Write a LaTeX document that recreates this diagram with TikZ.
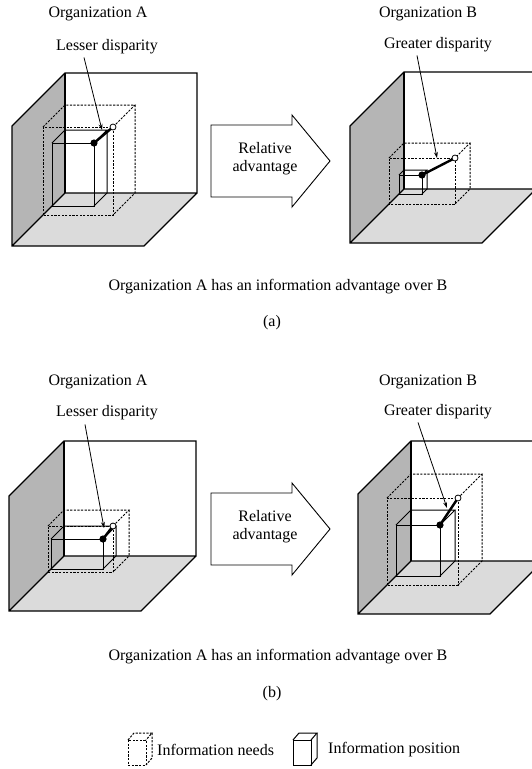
\documentclass[tikz,border=0pt]{standalone}
\usepackage{fontspec}
\setmainfont{Liberation Serif}
\usetikzlibrary{arrows.meta}
\definecolor{wallgray}{gray}{0.71}
\definecolor{floorgray}{gray}{0.86}
\tikzset{
  edge/.style={line width=1.1pt, line join=miter},
  needs/.style={line width=1pt, dash pattern=on 2.2pt off 1.4pt},
  position/.style={line width=1pt},
  gap/.style={line width=2.4pt},
  pointer/.style={line width=0.8pt, -{Stealth[length=6pt,width=4pt]}},
  label/.style={font=\fontsize{16}{18}\selectfont, inner sep=0pt},
}
% room corner: corner x, corner y, wall height, depth
\newcommand\drawpanel[4]{%
  \fill[floorgray] (#1,#2) -- (#1+132,#2) -- (#1+132-#4,#2+#4) -- (#1-#4,#2+#4) -- cycle;
  \fill[wallgray] (#1,#2-#3) -- (#1,#2) -- (#1-#4,#2+#4) -- (#1-#4,#2+#4-#3) -- cycle;
  \draw[edge] (#1+132,#2) -- (#1+132-#4,#2+#4) -- (#1-#4,#2+#4) -- (#1-#4,#2+#4-#3)
     -- (#1,#2-#3) -- (#1+132,#2-#3) -- (#1+132,#2) -- (#1,#2) -- (#1-#4,#2+#4);
  \draw[edge] (#1,#2-#3) -- (#1,#2);
}
% wire-frame box set in the corner: style, corner x, corner y, width, height, depth
\newcommand\wirebox[6]{%
  \draw[#1] (#2-#6,#3+#6) rectangle (#2+#4-#6,#3+#6-#5);
  \draw[#1] (#2-#6,#3+#6-#5) -- (#2,#3-#5) -- (#2+#4,#3-#5) -- (#2+#4-#6,#3+#6-#5);
  \draw[#1] (#2+#4,#3-#5) -- (#2+#4,#3) -- (#2+#4-#6,#3+#6);
}
% thick segment from the held position to the needed one
\newcommand\disparity[2]{%
  \draw[gap] (#1) -- (#2);
  \fill (#1) circle (3.6pt);
  \draw[line width=0.8pt, fill=white] (#2) circle (3pt);
}
\begin{document}
\begin{tikzpicture}[x=1pt,y=-1pt]
\useasboundingbox (0,0) rectangle (532,769);
\fill[white] (0,0) rectangle (532,769);

\begin{scope}
\clip (0,0) rectangle (532,769);

% ---------- (a) ----------
\drawpanel{65}{193}{120}{53}
\wirebox{needs}{65}{193}{70}{88}{22}
\wirebox{position}{65}{193}{42}{63}{13}
\coordinate (holdA1) at (94,143);
\coordinate (needA1) at (113,127);
\disparity{holdA1}{needA1}

\drawpanel{404}{189}{117}{54}
\wirebox{needs}{404}{189}{66}{46}{15}
\wirebox{position}{404}{189}{23}{19}{5}
\coordinate (holdB1) at (422,175);
\coordinate (needB1) at (455,158);
\disparity{holdB1}{needB1}

% ---------- (b) ----------
\drawpanel{64}{556}{115}{55}
\wirebox{needs}{64}{556}{65}{46}{16}
\wirebox{position}{64}{556}{52}{30}{13}
\coordinate (holdA2) at (103,539);
\coordinate (needA2) at (113,526);
\disparity{holdA2}{needA2}

\drawpanel{411}{561}{120}{53}
\wirebox{needs}{411}{561}{71}{87}{24}
\wirebox{position}{411}{561}{44}{51}{15}
\coordinate (holdB2) at (440,525);
\coordinate (needB2) at (458,498);
\disparity{holdB2}{needB2}
\end{scope}

% labels and pointers
\node[label] (orgA1) at (98,14) {Organization A};
\node[label] (lessA1) at (107,47) {Lesser disparity};
\coordinate (tipA1) at (102,130);
\draw[pointer] ([xshift=-23pt,yshift=-3pt]lessA1.south) -- (tipA1);

\node[label] (orgB1) at (428,14) {Organization B};
\node[label] (moreB1) at (438,45) {Greater disparity};
\coordinate (tipB1) at (437,158);
\draw[pointer] ([xshift=-21pt,yshift=-3pt]moreB1.south) -- (tipB1);

\node[label] (orgA2) at (98,382) {Organization A};
\node[label] (lessA2) at (107,413) {Lesser disparity};
\coordinate (tipA2) at (104,528);
\draw[pointer] ([xshift=-22pt,yshift=-4pt]lessA2.south) -- (tipA2);

\node[label] (orgB2) at (428,382) {Organization B};
\node[label] (moreB2) at (438,412) {Greater disparity};
\coordinate (tipB2) at (447,508);
\draw[pointer] ([xshift=-20pt,yshift=-3pt]moreB2.south) -- (tipB2);

% relative advantage arrows
\draw[line width=0.9pt, fill=white] (211,125) -- (292,125) -- (292,115) -- (330,161)
   -- (292,207) -- (292,197) -- (211,197) -- cycle;
\node[label, align=center] (relA) at (265,159) {Relative\\advantage};

\draw[line width=0.9pt, fill=white] (211,493) -- (292,493) -- (292,483) -- (330,529)
   -- (292,575) -- (292,565) -- (211,565) -- cycle;
\node[label, align=center] (relB) at (265,527) {Relative\\advantage};

% captions
\node[label] (capA) at (278,287) {Organization A has an information advantage over B};
\node[label] (subA) at (272,323) {(a)};
\node[label] (capB) at (278,657) {Organization A has an information advantage over B};
\node[label] (subB) at (272,694) {(b)};

% legend
\draw[needs] (128,740) rectangle (146,765);
\draw[needs] (128,740) -- (134,733) -- (152,733) -- (146,740);
\draw[needs] (152,733) -- (152,758) -- (146,765);
\node[label, anchor=west] (legNeeds) at (157,750) {Information needs};

\draw[position] (293,740) rectangle (311,765);
\draw[position] (293,740) -- (299,733) -- (317,733) -- (311,740);
\draw[position] (317,733) -- (317,758) -- (311,765);
\node[label, anchor=west] (legPos) at (328,750) {Information position};
\end{tikzpicture}
\end{document}
